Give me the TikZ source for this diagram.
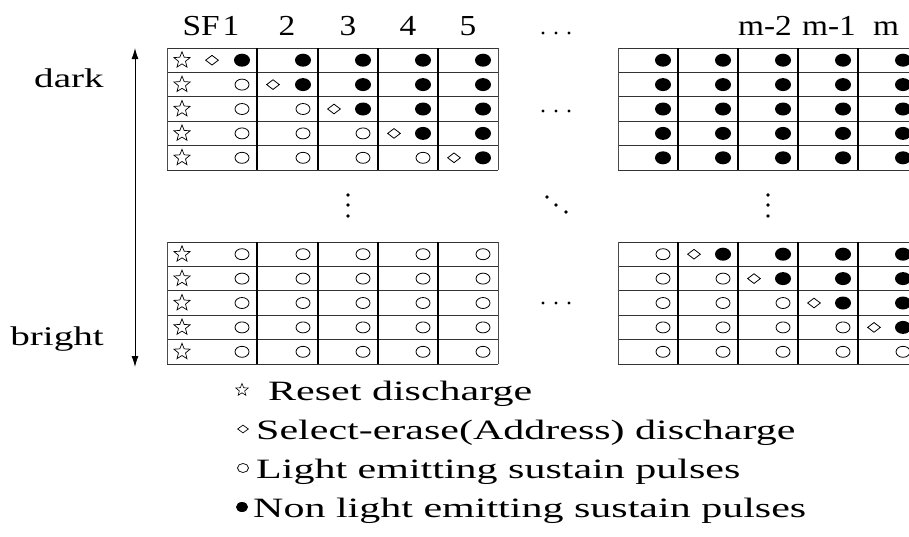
\documentclass[tikz,border=0pt]{standalone}
\usepackage{fontspec}
\setmainfont[FakeStretch=1.45]{Liberation Serif}
\newfontfamily\headfont[FakeStretch=1.15]{Liberation Serif}
\newfontfamily\keyfont[FakeStretch=1.5]{Liberation Serif}
\usetikzlibrary{arrows.meta,shapes.geometric}
\tikzset{%
	>={Latex[width=7pt,length=11pt]},
	% lines of the tables
	rowline/.style = {line width=1pt, draw=black!80},
	colline/.style = {line width=1.7pt, draw=black},
	edgeline/.style = {line width=1pt, draw=black!70},
	% symbols in the cells
	resetsym/.style = {star, star points=5, star point ratio=2.3, draw, line width=0.7pt, inner sep=0pt, minimum size=17pt},
	addrsym/.style = {diamond, draw, line width=0.8pt, inner sep=0pt, minimum width=13pt, minimum height=10pt},
	lightsym/.style = {ellipse, draw, line width=0.8pt, inner sep=0pt, minimum width=14pt, minimum height=11pt},
	darksym/.style = {ellipse, fill=black, inner sep=0pt, minimum width=16pt, minimum height=13pt},
	% texts
	lbl/.style = {font=\fontsize{27}{30}\selectfont, inner sep=0pt},
	keytext/.style = {font=\keyfont\fontsize{28}{30}\selectfont, inner sep=0pt, anchor=base west},
	head/.style = {font=\headfont\fontsize{29}{30}\selectfont, inner sep=0pt, anchor=base}
}
\begin{document}
\begin{tikzpicture}[x=1pt,y=-1pt]
	\useasboundingbox (0,0) rectangle (909,536);
	\clip (0,0) rectangle (909,536);
	
	% grids of the four tables
	\foreach \t/\l/\r in {48/167/498, 48/618/918, 242/167/498, 242/618/918} {
		\foreach \i in {0,...,5}
			\draw[rowline] (\l,\t+24.4*\i) -- (\r,\t+24.4*\i);
		\draw[edgeline] (\l,\t) -- (\l,\t+122);
		\draw[edgeline] (\r,\t) -- (\r,\t+122);
	}
	\foreach \x in {257,318,378,438,678,738,798,858} {
		\draw[colline] (\x,48) -- (\x,170);
		\draw[colline] (\x,242) -- (\x,364);
	}
	
	% headers
	\node[head] (sf1) at (211,35) {SF\kern3pt1};
	\node[head] (sf2) at (287,35) {2};
	\node[head] (sf3) at (348,35) {3};
	\node[head] (sf4) at (408,35) {4};
	\node[head] (sf5) at (468,35) {5};
	\node[head] (sfm2) at (765,35) {m-2};
	\node[head] (sfm1) at (829,35) {m-1};
	\node[head] (sfm) at (886,35) {m};
	
	% upper left table
	\foreach \r in {1,...,5} {
		\pgfmathsetmacro{\y}{48+24.4*(\r-0.5)}
		\node[resetsym] (ul\r) at (182,\y) {};
		\foreach \c/\dx/\xr in {1/212/257, 2/273/318, 3/334/378, 4/394/438, 5/454/498} {
			\ifnum\c<\r
				\node[lightsym] (ul\r\c) at (\xr-15,\y) {};
			\else
				\ifnum\c=\r
					\node[addrsym] (ua\r\c) at (\dx,\y) {};
				\fi
				\node[darksym] (ul\r\c) at (\xr-15,\y) {};
			\fi
		}
	}
	
	% upper right table
	\foreach \r in {1,...,5} {
		\pgfmathsetmacro{\y}{48+24.4*(\r-0.5)}
		\foreach \xr in {678,738,798,858,918}
			\node[darksym] (ur\r\xr) at (\xr-15,\y) {};
	}
	
	% lower left table
	\foreach \r in {1,...,5} {
		\pgfmathsetmacro{\y}{242+24.4*(\r-0.5)}
		\node[resetsym] (ll\r) at (182,\y) {};
		\foreach \xr in {257,318,378,438,498}
			\node[lightsym] (ll\r\xr) at (\xr-15,\y) {};
	}
	
	% lower right table
	\foreach \r in {1,...,5} {
		\pgfmathsetmacro{\y}{242+24.4*(\r-0.5)}
		\foreach \c/\dx/\xr in {1/634/678, 2/694/738, 3/754/798, 4/814/858, 5/874/918} {
			\ifnum\c>\r
				\ifnum\c=\numexpr\r+1\relax
					\node[addrsym] (la\r\c) at (\dx,\y) {};
				\fi
				\node[darksym] (lr\r\c) at (\xr-15,\y) {};
			\else
				\node[lightsym] (lr\r\c) at (\xr-15,\y) {};
			\fi
		}
	}
	
	% dots
	\foreach \y in {33,111,303}
		\foreach \x in {543,556,569}
			\fill (\x,\y) circle (1.7);
	\foreach \y in {195,205,216} {
		\fill (348,\y) circle (1.8);
		\fill (768,\y) circle (1.8);
	}
	\fill (547,197) circle (1.8);
	\fill (556,205) circle (1.8);
	\fill (566,212) circle (1.8);
	
	% dark / bright
	\coordinate (top) at (135,48);
	\coordinate (bot) at (135,367);
	\draw[<->, line width=0.9pt] (top) -- (bot);
	\node[lbl, anchor=base east] (dark) at (104,87) {dark};
	\node[lbl, anchor=base east] (bright) at (104,345) {bright};
	
	% legend
	\node[resetsym, minimum size=13pt, line width=0.6pt] (k1) at (242,390) {};
	\node[keytext] (t1) at (268,400) {Reset discharge};
	\node[addrsym, minimum width=11pt, minimum height=8pt, line width=0.7pt] (k2) at (243,429) {};
	\node[keytext] (t2) at (256,439) {Select-erase(Address) discharge};
	\node[lightsym, minimum width=11pt, minimum height=9pt, line width=0.7pt] (k3) at (243,468) {};
	\node[keytext] (t3) at (256,478) {Light emitting sustain pulses};
	\node[darksym, minimum width=12pt, minimum height=10pt] (k4) at (242,507) {};
	\node[keytext] (t4) at (253,517) {Non light emitting sustain pulses};
\end{tikzpicture}
\end{document}
